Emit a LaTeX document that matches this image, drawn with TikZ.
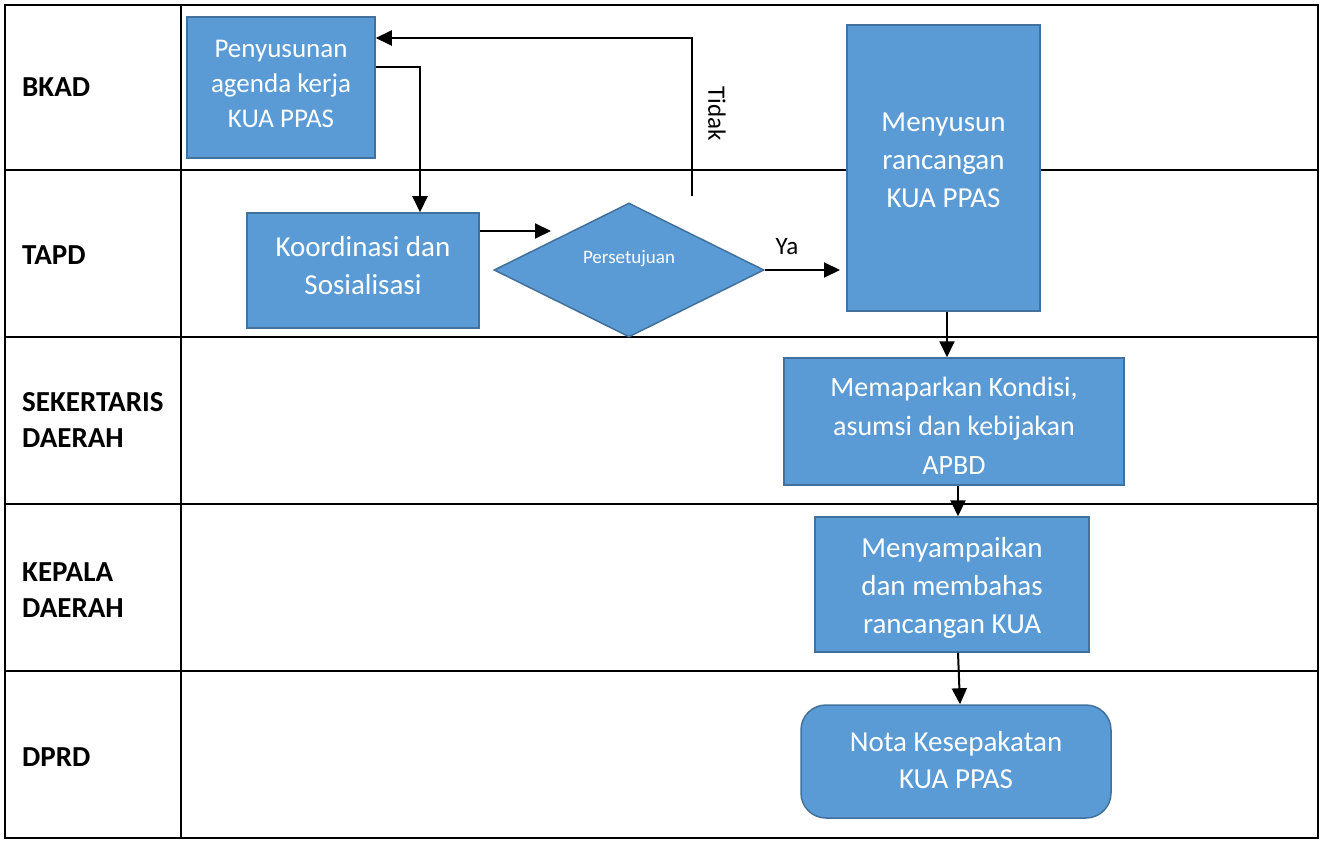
\documentclass[tikz,border=0pt]{standalone}
\usepackage{fontspec}
\setmainfont{Carlito}
\usetikzlibrary{shapes.geometric,arrows.meta}
\definecolor{boxfill}{HTML}{5B9BD5}
\definecolor{boxline}{HTML}{41719C}
\begin{document}
\begin{tikzpicture}[x=1pt,y=-1pt,
  grid/.style={line width=2pt,black},
  shape box/.style={draw=boxline,line width=1.5pt,fill=boxfill,inner sep=0pt},
  boxtext/.style={text=white,align=center,inner sep=0pt,font=\fontsize{29}{38}\selectfont},
  lane/.style={anchor=west,align=left,inner sep=0pt,font=\bfseries\fontsize{29}{36}\selectfont},
  arr/.style={line width=2pt,-{Triangle[length=16pt,width=15pt]}},
  lbl/.style={inner sep=0pt,font=\fontsize{25}{30}\selectfont}]
\useasboundingbox (0,0) rectangle (1322,842);
% swimlane table
\draw[grid] (5,5) rectangle (1318,838);
\draw[grid] (181,5) -- (181,838);
\foreach \yy in {170,337,504,671} \draw[grid] (5,\yy) -- (1318,\yy);
% lane titles
\node[lane] (l1) at (22,87) {BKAD};
\node[lane] (l2) at (22,255) {TAPD};
\node[lane] (l3) at (22,420) {SEKERTARIS\\DAERAH};
\node[lane] (l4) at (22,590) {KEPALA\\DAERAH};
\node[lane] (l5) at (22,757) {DPRD};
% process steps (shape, then its caption)
\node[shape box,minimum width=188,minimum height=141] (pen) at (281,87.5) {};
\node[boxtext,font=\fontsize{27}{35}\selectfont] (penT) at (281,84) {Penyusunan\\agenda kerja\\KUA PPAS};
\node[shape box,minimum width=232,minimum height=115] (koor) at (363,270.5) {};
\node[boxtext] (koorT) at (363,266) {Koordinasi dan\\Sosialisasi};
\node[shape box,shape=diamond,minimum width=270,minimum height=134] (dia) at (629,270) {};
\node[boxtext,font=\fontsize{19}{22}\selectfont] (diaT) at (629,259) {Persetujuan};
\node[shape box,minimum width=193,minimum height=286] (meny) at (943.5,168) {};
\node[boxtext] (menyT) at (943.5,160) {Menyusun\\rancangan\\KUA PPAS};
\node[shape box,minimum width=340,minimum height=127] (mema) at (954,421.5) {};
\node[boxtext,font=\fontsize{28}{39}\selectfont] (memaT) at (954,426) {Memaparkan Kondisi,\\asumsi dan kebijakan\\APBD};
\node[shape box,minimum width=274,minimum height=135] (menya) at (952,584.5) {};
\node[boxtext] (menyaT) at (952,588) {Menyampaikan\\dan membahas\\rancangan KUA};
\node[shape box,rounded corners=25pt,minimum width=310,minimum height=113] (nota) at (956,761.5) {};
\node[boxtext,font=\fontsize{29}{37}\selectfont] (notaT) at (956,760) {Nota Kesepakatan\\KUA PPAS};
% connectors
\coordinate (kd) at (551,231);
\coordinate (ya) at (840,270);
\coordinate (t0) at (692,196);
\coordinate (t1) at (692,38);
\draw[arr] ([yshift=20.5pt]pen.east) -| ([xshift=57pt]koor.north);
\draw[arr] (koor.east |- kd) -- (kd);
\draw[arr] (dia.east) -- (ya);
\draw[arr] (t0) -- (t1) -- (t1 -| pen.east);
\draw[arr] ([xshift=3.5pt]meny.south) -- ([xshift=3.5pt]meny.south |- mema.north);
\draw[arr] ([xshift=4pt]mema.south) -- ([xshift=4pt]mema.south |- menya.north);
\draw[arr] ([xshift=6pt]menya.south) -- ([xshift=4pt]nota.north);
% branch labels
\node[lbl,anchor=center] (ylbl) at (787,247) {Ya};
\node[lbl,rotate=-90,anchor=center] (tlbl) at (717,114) {Tidak};
\end{tikzpicture}
\end{document}
